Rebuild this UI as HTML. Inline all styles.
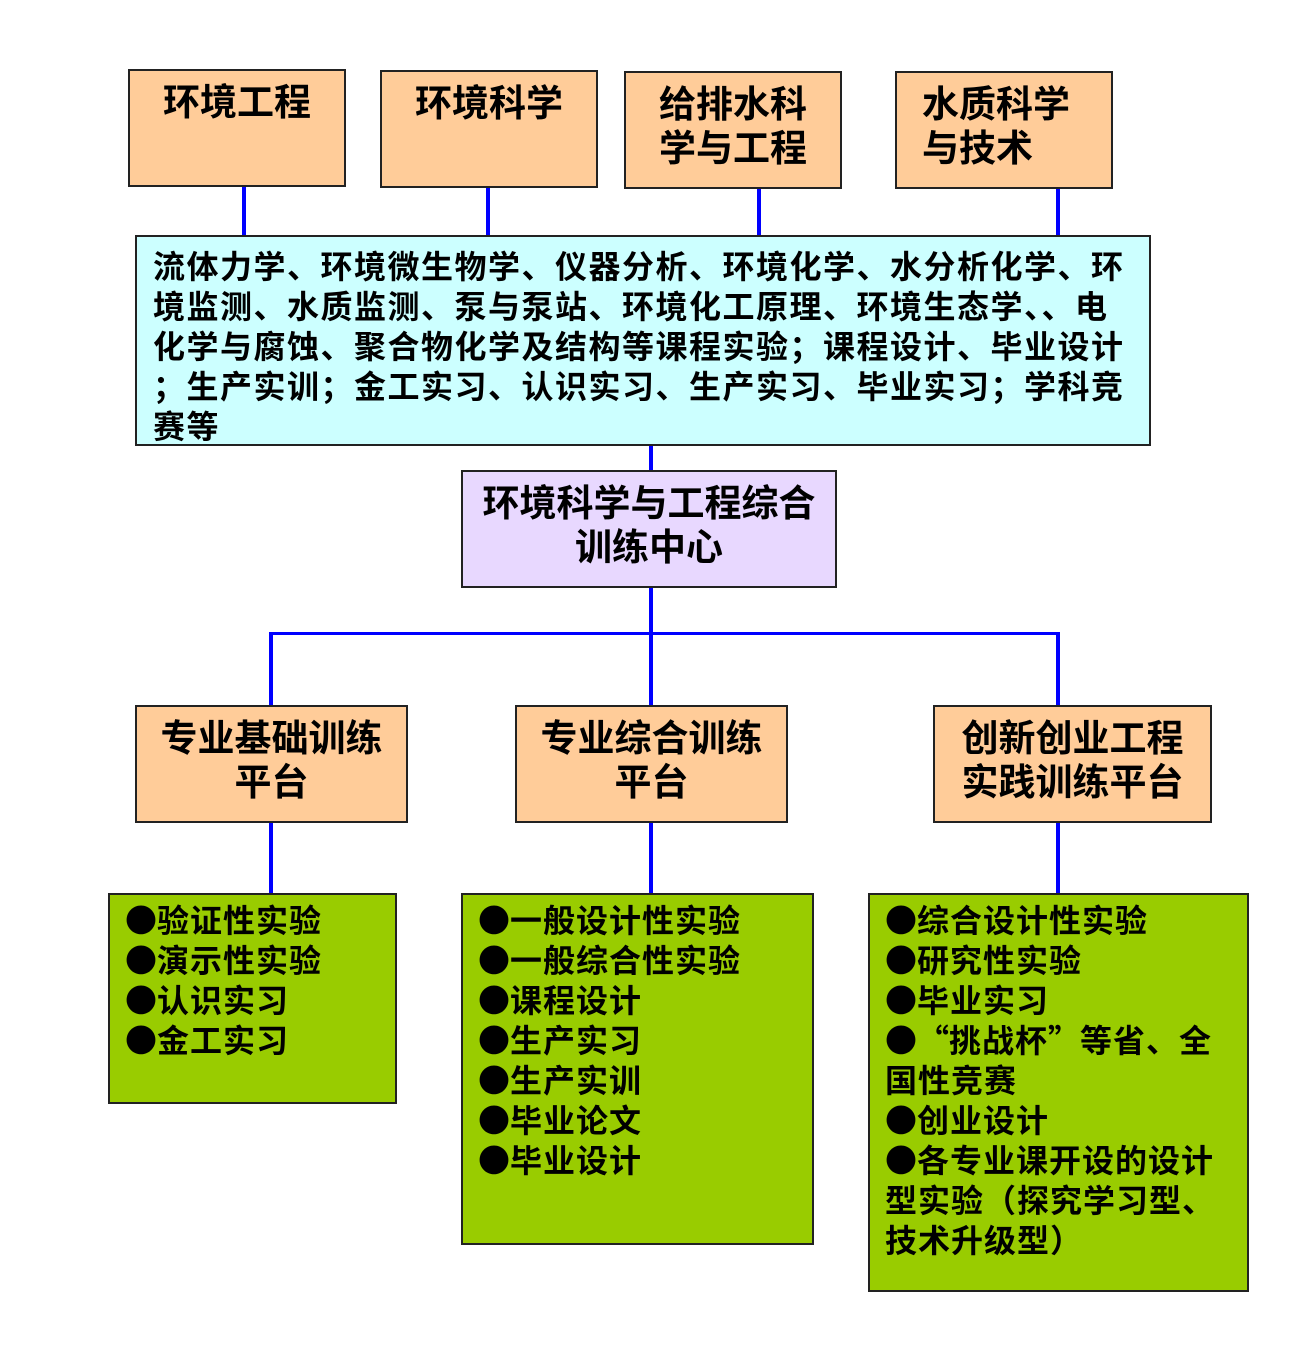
<!DOCTYPE html>
<html><head><meta charset="utf-8"><style>
body{margin:0;width:1302px;height:1363px;background:#fff;position:relative;overflow:hidden;font-family:"Liberation Sans","Noto Sans CJK SC",sans-serif;font-weight:bold;color:#000}
.b{position:absolute;box-sizing:border-box;border:2px solid #222;white-space:nowrap}
.p{background:#FFCC99}
.t{font-size:37px;line-height:44px}
.l{position:absolute;background:#0000FF}
.g{background:#99CC00;font-size:32px;line-height:40px;padding:6px 0 0 15px;letter-spacing:1px}
.g div{height:40px;line-height:40px}
i{font-style:normal;font-family:"Noto Sans CJK SC",sans-serif;letter-spacing:0;line-height:1}
</style></head><body>
<div class="l" style="left:242px;top:186px;width:4px;height:50px"></div>
<div class="l" style="left:486px;top:187px;width:4px;height:49px"></div>
<div class="l" style="left:757px;top:188px;width:4px;height:48px"></div>
<div class="l" style="left:1056px;top:188px;width:4px;height:48px"></div>
<div class="l" style="left:649px;top:445px;width:4px;height:26px"></div>
<div class="l" style="left:649px;top:587px;width:4px;height:119px"></div>
<div class="l" style="left:269px;top:632px;width:791px;height:3px"></div>
<div class="l" style="left:269px;top:632px;width:4px;height:74px"></div>
<div class="l" style="left:1056px;top:632px;width:4px;height:74px"></div>
<div class="l" style="left:269px;top:822px;width:4px;height:72px"></div>
<div class="l" style="left:649px;top:822px;width:4px;height:72px"></div>
<div class="l" style="left:1056px;top:822px;width:4px;height:72px"></div>

<div class="b p t" style="left:128px;top:69px;width:218px;height:118px;padding:10px 0 0 33px">环境工程</div>
<div class="b p t" style="left:380px;top:70px;width:218px;height:118px;padding:10px 0 0 33px">环境科学</div>
<div class="b p t" style="left:624px;top:71px;width:218px;height:118px;padding:10px 0 0 33px">给排水科<br>学与工程</div>
<div class="b p t" style="left:895px;top:71px;width:218px;height:118px;padding:10px 0 0 25px">水质科学<br>与技术</div>

<div class="b" style="left:135px;top:235px;width:1016px;height:211px;background:#CCFFFF;font-size:32px;line-height:40px;padding:10px 0 0 16px;letter-spacing:1.5px">流体力学、环境微生物学、仪器分析、环境化学、水分析化学、环<br>境监测、水质监测、泵与泵站、环境化工原理、环境生态学、、电<br>化学与腐蚀、聚合物化学及结构等课程实验；课程设计、毕业设计<br>；生产实训；金工实习、认识实习、生产实习、毕业实习；学科竞<br>赛等</div>

<div class="b t" style="left:461px;top:470px;width:376px;height:118px;background:#E8D8FF;text-align:center;padding-top:10px">环境科学与工程综合<br>训练中心</div>

<div class="b p t" style="left:135px;top:705px;width:273px;height:118px;text-align:center;padding-top:10px">专业基础训练<br>平台</div>
<div class="b p t" style="left:515px;top:705px;width:273px;height:118px;text-align:center;padding-top:10px">专业综合训练<br>平台</div>
<div class="b p t" style="left:933px;top:705px;width:279px;height:118px;text-align:center;padding-top:10px">创新创业工程<br>实践训练平台</div>

<div class="b g" style="left:108px;top:893px;width:289px;height:211px"><div><i>●</i>验证性实验</div><div><i>●</i>演示性实验</div><div><i>●</i>认识实习</div><div><i>●</i>金工实习</div></div>
<div class="b g" style="left:461px;top:893px;width:353px;height:352px"><div><i>●</i>一般设计性实验</div><div><i>●</i>一般综合性实验</div><div><i>●</i>课程设计</div><div><i>●</i>生产实习</div><div><i>●</i>生产实训</div><div><i>●</i>毕业论文</div><div><i>●</i>毕业设计</div></div>
<div class="b g" style="left:868px;top:893px;width:381px;height:399px"><div><i>●</i>综合设计性实验</div><div><i>●</i>研究性实验</div><div><i>●</i>毕业实习</div><div><i>●“</i>挑战杯<i>”</i>等省、全</div><div>国性竞赛</div><div><i>●</i>创业设计</div><div><i>●</i>各专业课开设的设计</div><div>型实验（探究学习型、</div><div>技术升级型）</div></div>
</body></html>
